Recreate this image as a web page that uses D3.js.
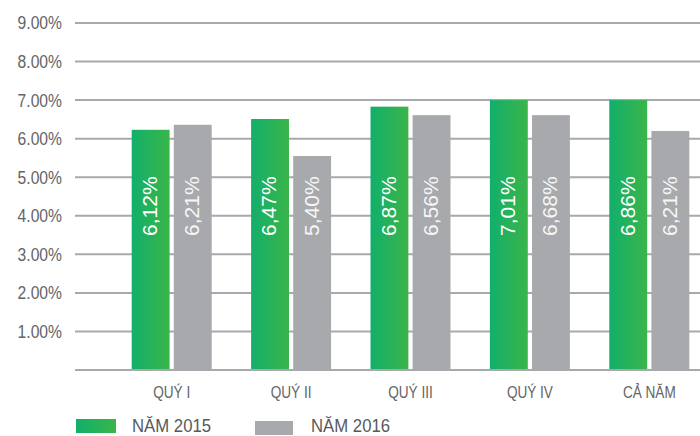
<!DOCTYPE html>
<html lang="vi">
  <head>
    <meta charset="UTF-8" />
    <title>Tỷ lệ theo quý 2015 - 2016</title>
    <script src="https://d3js.org/d3.v7.min.js"></script>
    <style>
      body {
        margin: 0;
        background: #fff;
      }
      .grid line {
        stroke: #a7a9ac;
        stroke-width: 2px;
      }
      .tick-label {
        font-family: "Liberation Sans Narrow", "Liberation Sans", sans-serif;
        fill: #636466;
      }
      .bar-label {
        font-family: "Liberation Sans", sans-serif;
        font-size: 21px;
        fill: #fff;
      }
      .legend-text {
        font-family: "Liberation Sans", sans-serif;
        font-size: 18px;
        fill: #58595b;
      }
    </style>
  </head>
  <body>
    <svg width="700" height="436"></svg>
    <script>
      // values (bar heights) and the printed labels
      const categories = ["QUÝ I", "QUÝ II", "QUÝ III", "QUÝ IV", "CẢ NĂM"];
      const seriesNames = ["NĂM 2015", "NĂM 2016"];
      const values2015 = [6.23, 6.51, 6.83, 7.0, 7.0];
      const values2016 = [6.36, 5.55, 6.61, 6.61, 6.2];
      const labels2015 = ["6,12%", "6,47%", "6,87%", "7,01%", "6,86%"];
      const labels2016 = ["6,21%", "5,40%", "6,56%", "6,68%", "6,21%"];
      const yTicks = [1, 2, 3, 4, 5, 6, 7, 8, 9];
      const yTickLabels = ["1.00%", "2.00%", "3.00%", "4.00%", "5.00%", "6.00%", "7.00%", "8.00%", "9.00%"];

      const svg = d3.select("svg");

      const y = d3.scaleLinear().domain([0, 9]).range([370, 23]);

      const x = d3
        .scaleBand()
        .domain(categories)
        .range([112, 709])
        .paddingInner(0.33)
        .paddingOuter(0.165);

      const xSub = d3
        .scaleBand()
        .domain(seriesNames)
        .range([0, x.bandwidth()])
        .paddingInner(0.1);

      // green gradient for 2015 bars
      const grad = svg
        .append("defs")
        .append("linearGradient")
        .attr("id", "green")
        .attr("x1", "0%")
        .attr("x2", "100%");
      grad.append("stop").attr("offset", "0%").attr("stop-color", "#12af6b");
      grad.append("stop").attr("offset", "100%").attr("stop-color", "#3ab54a");

      const fills = { "NĂM 2015": "url(#green)", "NĂM 2016": "#a7a9ac" };

      // gridlines + baseline
      svg
        .append("g")
        .attr("class", "grid")
        .selectAll("line")
        .data([0].concat(yTicks))
        .enter()
        .append("line")
        .attr("x1", 75)
        .attr("x2", 700)
        .attr("y1", (d) => y(d))
        .attr("y2", (d) => y(d));

      // y tick labels (condensed look)
      svg
        .append("g")
        .selectAll("text")
        .data(yTicks)
        .enter()
        .append("text")
        .attr("class", "tick-label")
        .attr("transform", (d) => `translate(62,${y(d)}) scale(0.87,1)`)
        .attr("dy", "0.36em")
        .attr("text-anchor", "end")
        .style("font-size", "18px")
        .text((d, i) => yTickLabels[i]);

      const rows = categories.map((c, i) => ({
        cat: c,
        bars: [
          { name: seriesNames[0], value: values2015[i], label: labels2015[i] },
          { name: seriesNames[1], value: values2016[i], label: labels2016[i] },
        ],
      }));

      const groups = svg
        .append("g")
        .selectAll("g")
        .data(rows)
        .enter()
        .append("g")
        .attr("transform", (d) => `translate(${x(d.cat)},0)`);

      groups
        .selectAll("rect")
        .data((d) => d.bars)
        .enter()
        .append("rect")
        .attr("x", (d) => xSub(d.name))
        .attr("width", xSub.bandwidth())
        .attr("y", (d) => y(d.value))
        .attr("height", (d) => y(0) - y(d.value) - 1)
        .attr("fill", (d) => fills[d.name]);

      // rotated value labels inside bars
      groups
        .selectAll(".bar-label")
        .data((d) => d.bars)
        .enter()
        .append("text")
        .attr("class", "bar-label")
        .attr(
          "transform",
          (d) => `translate(${xSub(d.name) + xSub.bandwidth() / 2 - 1},${y(4.25)}) rotate(-90)`
        )
        .attr("text-anchor", "middle")
        .attr("dy", "0.35em")
        .style("opacity", (d) => (d.name === seriesNames[1] ? 0.9 : 1))
        .text((d) => d.label);

      // category labels
      svg
        .append("g")
        .selectAll("text")
        .data(categories)
        .enter()
        .append("text")
        .attr("class", "tick-label")
        .attr("transform", (d) => `translate(${x(d) + x.bandwidth() / 2},398) scale(0.8,1)`)
        .attr("text-anchor", "middle")
        .style("font-size", "17px")
        .text((d) => d);

      // legend
      const legend = svg
        .append("g")
        .selectAll("g")
        .data(seriesNames)
        .enter()
        .append("g")
        .attr("transform", (d, i) => (i === 0 ? "translate(76,419)" : "translate(255,421)"));

      legend
        .append("rect")
        .attr("width", (d, i) => (i === 0 ? 40 : 38))
        .attr("height", 14)
        .attr("fill", (d) => fills[d]);

      legend
        .append("text")
        .attr("class", "legend-text")
        .attr("transform", (d, i) => `translate(56,${i === 0 ? 13 : 11}) scale(0.93,1)`)
        .text((d) => d);
    </script>
  </body>
</html>
